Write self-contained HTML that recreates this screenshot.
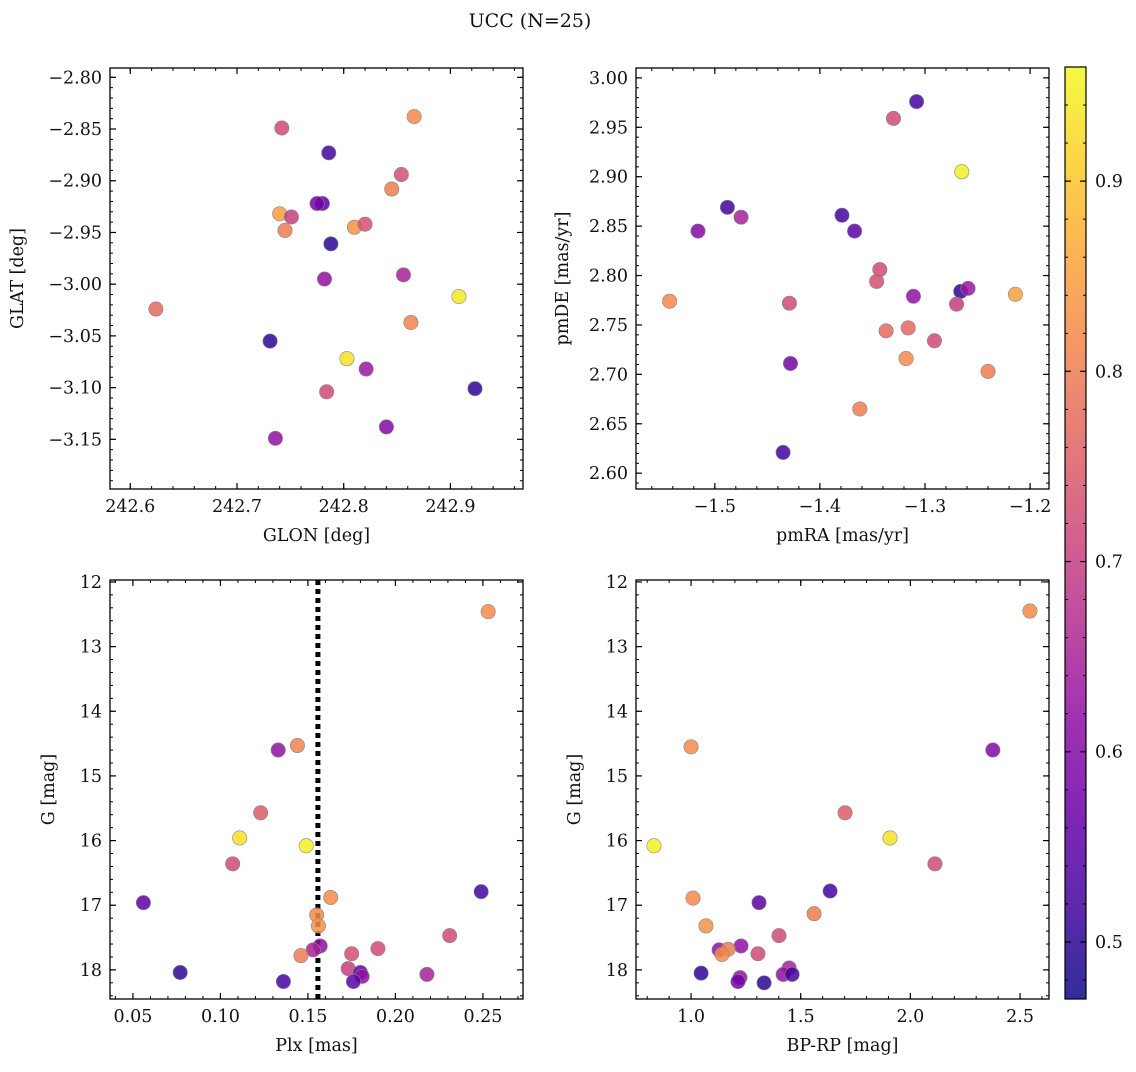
<!DOCTYPE html>
<html><head><meta charset="utf-8"><style>
html,body{margin:0;padding:0;background:#fff}
svg text{font-family:"DejaVu Serif","Liberation Serif",serif;fill:#111}
</style></head><body>
<svg id="fig" width="1136" height="1067" viewBox="0 0 1136 1067" xmlns="http://www.w3.org/2000/svg">
<text x="530" y="27" font-size="19" text-anchor="middle">UCC (N=25)</text>
</svg>
<script>
// ---- data ----
const glon = [242.866,242.742,242.786,242.854,242.845,242.780,242.775,242.740,242.751,242.745,242.810,242.820,242.788,242.782,242.856,242.908,242.624,242.863,242.731,242.803,242.821,242.784,242.923,242.840,242.736];
const glat = [-2.838,-2.849,-2.873,-2.894,-2.908,-2.922,-2.922,-2.932,-2.935,-2.948,-2.945,-2.942,-2.961,-2.995,-2.991,-3.012,-3.024,-3.037,-3.055,-3.072,-3.082,-3.104,-3.101,-3.138,-3.149];
const probPos = [0.82,0.72,0.52,0.73,0.80,0.55,0.58,0.85,0.70,0.80,0.83,0.73,0.50,0.62,0.65,0.94,0.77,0.81,0.50,0.93,0.63,0.72,0.50,0.60,0.62];
const pmra = [-1.308,-1.330,-1.265,-1.488,-1.379,-1.475,-1.516,-1.367,-1.343,-1.346,-1.266,-1.259,-1.214,-1.311,-1.543,-1.429,-1.270,-1.337,-1.316,-1.291,-1.318,-1.428,-1.240,-1.362,-1.435];
const pmde = [2.976,2.959,2.905,2.869,2.861,2.859,2.845,2.845,2.806,2.794,2.784,2.787,2.781,2.779,2.774,2.772,2.771,2.744,2.747,2.734,2.716,2.711,2.703,2.665,2.621];
const probPm = [0.52,0.72,0.95,0.52,0.52,0.65,0.60,0.55,0.72,0.73,0.50,0.63,0.85,0.62,0.82,0.72,0.70,0.77,0.77,0.72,0.82,0.58,0.80,0.80,0.52];
const plx = [0.253,0.133,0.144,0.123,0.111,0.149,0.107,0.249,0.163,0.056,0.155,0.156,0.231,0.157,0.190,0.153,0.175,0.146,0.173,0.180,0.077,0.181,0.218,0.176,0.136];
const gPlx = [12.46,14.60,14.53,15.57,15.96,16.08,16.36,16.79,16.88,16.96,17.15,17.32,17.47,17.63,17.67,17.69,17.75,17.78,17.98,18.04,18.04,18.10,18.07,18.18,18.18];
const probPlx = [0.82,0.62,0.81,0.75,0.93,0.95,0.72,0.52,0.82,0.55,0.82,0.83,0.72,0.62,0.72,0.65,0.73,0.80,0.70,0.55,0.50,0.62,0.65,0.55,0.52];
const bprp = [2.545,1.000,2.376,1.702,1.907,0.831,2.112,1.634,1.009,1.310,1.561,1.068,1.401,1.228,1.128,1.169,1.141,1.305,1.447,1.420,1.461,1.223,1.046,1.214,1.333];
const gCmd = [12.45,14.55,14.60,15.57,15.96,16.08,16.36,16.78,16.89,16.96,17.13,17.32,17.47,17.63,17.69,17.68,17.76,17.75,17.97,18.07,18.07,18.12,18.05,18.18,18.20];
const probCmd = [0.82,0.82,0.60,0.75,0.93,0.95,0.72,0.52,0.82,0.55,0.80,0.83,0.72,0.62,0.62,0.80,0.82,0.72,0.65,0.62,0.52,0.62,0.50,0.58,0.50];
const plxLine = 0.1557;
const cbTicks = [0.5,0.6,0.7,0.8,0.9];
const cbMin = 0.47, cbMax = 0.96;

const NS="http://www.w3.org/2000/svg";
const svg=document.getElementById('fig');
function mk(tag,attrs,parent){const e=document.createElementNS(NS,tag);for(const k in attrs)e.setAttribute(k,attrs[k]);(parent||svg).appendChild(e);return e;}
const stops=["#0d0887","#41049d","#6a00a8","#8f0da4","#b12a90","#cc4778","#e16462","#f2844b","#fca636","#fcce25","#f0f921"];
function hex(h){return [1,3,5].map(i=>parseInt(h.substr(i,2),16));}
function plasma(t){t=Math.max(0,Math.min(1,t));const f=t*10,i=Math.min(9,Math.floor(f)),r=f-i;const a=hex(stops[i]),b=hex(stops[i+1]);return `rgb(${a.map((v,k)=>Math.round(v+(b[k]-v)*r)).join(',')})`;}
function col(p){return plasma((p-cbMin)/(cbMax-cbMin));}
function fmt(v,d){return (v<0?'\u2212':'')+Math.abs(v).toFixed(d);}
const FS=17.5;

function panel(o){
  const g=mk('g',{});
  
  
  const sx=v=>o.x0+(v-o.xlim[0])/(o.xlim[1]-o.xlim[0])*(o.x1-o.x0);
  const sy=v=>o.y1-(v-o.ylim[0])/(o.ylim[1]-o.ylim[0])*(o.y1-o.y0);
  const inX=v=>v>=Math.min(...o.xlim)-1e-9&&v<=Math.max(...o.xlim)+1e-9;
  const inY=v=>v>=Math.min(...o.ylim)-1e-9&&v<=Math.max(...o.ylim)+1e-9;
  for(let v=Math.ceil(Math.min(...o.xlim)/o.xminor)*o.xminor;v<=Math.max(...o.xlim);v+=o.xminor){const x=sx(v);
    mk('line',{x1:x,x2:x,y1:o.y1,y2:o.y1-3,stroke:'#000','stroke-width':1},g);mk('line',{x1:x,x2:x,y1:o.y0,y2:o.y0+3,stroke:'#000','stroke-width':1},g);}
  for(let v=Math.ceil(Math.min(...o.ylim)/o.yminor)*o.yminor;v<=Math.max(...o.ylim);v+=o.yminor){const y=sy(v);
    mk('line',{x1:o.x0,x2:o.x0+3,y1:y,y2:y,stroke:'#000','stroke-width':1},g);mk('line',{x1:o.x1,x2:o.x1-3,y1:y,y2:y,stroke:'#000','stroke-width':1},g);}
  o.xticks.forEach(v=>{if(!inX(v))return;const x=sx(v);
    mk('line',{x1:x,x2:x,y1:o.y1,y2:o.y1-6,stroke:'#000','stroke-width':1.2},g);mk('line',{x1:x,x2:x,y1:o.y0,y2:o.y0+6,stroke:'#000','stroke-width':1.2},g);
    const t=mk('text',{x:x,y:o.y1+23,'font-size':FS,'text-anchor':'middle'},g);t.textContent=fmt(v,o.xd);
    });
  o.yticks.forEach(v=>{if(!inY(v))return;const y=sy(v);
    mk('line',{x1:o.x0,x2:o.x0+6,y1:y,y2:y,stroke:'#000','stroke-width':1.2},g);mk('line',{x1:o.x1,x2:o.x1-6,y1:y,y2:y,stroke:'#000','stroke-width':1.2},g);
    const t=mk('text',{x:o.x0-8,y:y+6,'font-size':FS,'text-anchor':'end'},g);t.textContent=fmt(v,o.yd);
    });
  if(o.vline!==undefined){const x=sx(o.vline);const l=mk('line',{x1:x,x2:x,y1:o.y0,y2:o.y1,stroke:'#000','stroke-width':5,'stroke-dasharray':'5,4'},g);
    }
  o.xs.forEach((xv,i)=>{const c=mk('circle',{cx:sx(xv),cy:sy(o.ys[i]),r:7.2,fill:col(o.ps[i]),'fill-opacity':0.85,stroke:'#888','stroke-width':0.6},g);
    });
  const fr=mk('rect',{x:o.x0,y:o.y0,width:o.x1-o.x0,height:o.y1-o.y0,fill:'none',stroke:'#000','stroke-width':1.3},g);
  
  const xl=mk('text',{x:(o.x0+o.x1)/2,y:o.y1+52,'font-size':17.5,'text-anchor':'middle'},g);xl.textContent=o.xlabel;
  
  const yx=o.x0-o.ylabOff,yy=(o.y0+o.y1)/2;
  const yl=mk('text',{x:yx,y:yy,'font-size':17.5,'text-anchor':'middle',transform:`rotate(-90 ${yx} ${yy})`},g);yl.textContent=o.ylabel;
  
}
panel({name:'galactic-position-panel',x0:110,x1:523,y0:68,y1:489,xlim:[242.581,242.968],ylim:[-3.198,-2.791],
  xticks:[242.6,242.7,242.8,242.9],yticks:[-2.80,-2.85,-2.90,-2.95,-3.00,-3.05,-3.10,-3.15],xminor:0.02,yminor:0.01,xd:1,yd:2,
  xs:glon,ys:glat,ps:probPos,xlabel:'GLON [deg]',ylabel:'GLAT [deg]',ylabOff:87});
panel({name:'proper-motion-panel',x0:636,x1:1049,y0:68,y1:489,xlim:[-1.575,-1.182],ylim:[2.584,3.010],
  xticks:[-1.5,-1.4,-1.3,-1.2],yticks:[2.60,2.65,2.70,2.75,2.80,2.85,2.90,2.95,3.00],xminor:0.02,yminor:0.01,xd:1,yd:2,
  xs:pmra,ys:pmde,ps:probPm,xlabel:'pmRA [mas/yr]',ylabel:'pmDE [mas/yr]',ylabOff:68});
panel({name:'parallax-magnitude-panel',x0:110,x1:523,y0:580,y1:999,xlim:[0.0369,0.2729],ylim:[18.45,11.97],
  xticks:[0.05,0.10,0.15,0.20,0.25],yticks:[12,13,14,15,16,17,18],xminor:0.01,yminor:0.2,xd:2,yd:0,
  xs:plx,ys:gPlx,ps:probPlx,xlabel:'Plx [mas]',ylabel:'G [mag]',ylabOff:56,vline:plxLine});
panel({name:'color-magnitude-panel',x0:636,x1:1049,y0:580,y1:999,xlim:[0.749,2.632],ylim:[18.45,11.97],
  xticks:[1.0,1.5,2.0,2.5],yticks:[12,13,14,15,16,17,18],xminor:0.1,yminor:0.2,xd:1,yd:0,
  xs:bprp,ys:gCmd,ps:probCmd,xlabel:'BP-RP [mag]',ylabel:'G [mag]',ylabOff:56});

const cb=mk('g',{});


const defs=mk('defs',{},cb);const lg=mk('linearGradient',{id:'pl',x1:0,y1:1,x2:0,y2:0},defs);
for(let i=0;i<=20;i++){mk('stop',{offset:i/20,'stop-color':plasma(i/20),'stop-opacity':0.85},lg);}
const cx0=1065,cx1=1086,cy0=67,cy1=999;
mk('rect',{x:cx0,y:cy0,width:cx1-cx0,height:cy1-cy0,fill:'url(#pl)',stroke:'#000','stroke-width':1.2},cb);
const cby=v=>cy1-(v-cbMin)/(cbMax-cbMin)*(cy1-cy0);
for(let v=0.48;v<cbMax;v+=0.02){const y=cby(v);mk('line',{x1:cx1,x2:cx1-3,y1:y,y2:y,stroke:'#000'},cb);mk('line',{x1:cx0,x2:cx0+3,y1:y,y2:y,stroke:'#000'},cb);}
cbTicks.forEach(v=>{const y=cby(v);mk('line',{x1:cx1,x2:cx1-6,y1:y,y2:y,stroke:'#000','stroke-width':1.2},cb);mk('line',{x1:cx0,x2:cx0+6,y1:y,y2:y,stroke:'#000','stroke-width':1.2},cb);
  const t=mk('text',{x:cx1+9,y:y+6,'font-size':FS},cb);t.textContent=v.toFixed(1);
  });
</script>
</body></html>
